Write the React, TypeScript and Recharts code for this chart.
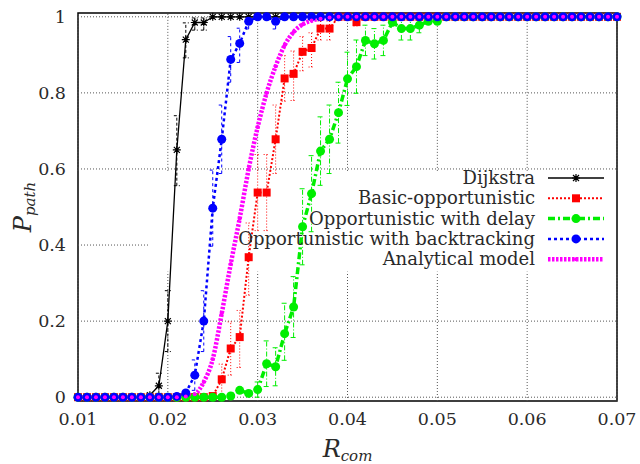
import {
  LineChart, Line, XAxis, YAxis, ErrorBar, ReferenceArea, ReferenceLine, Legend,
} from "recharts";

const R_COM = [
  0.01, 0.011, 0.012, 0.013, 0.014, 0.015, 0.016, 0.017, 0.018, 0.019,
  0.02, 0.021, 0.022, 0.023, 0.024, 0.025, 0.026, 0.027, 0.028, 0.029,
  0.03, 0.031, 0.032, 0.033, 0.034, 0.035, 0.036, 0.037, 0.038, 0.039,
  0.04, 0.041, 0.042, 0.043, 0.044, 0.045, 0.046, 0.047, 0.048, 0.049,
  0.05, 0.051, 0.052, 0.053, 0.054, 0.055, 0.056, 0.057, 0.058, 0.059,
  0.06, 0.061, 0.062, 0.063, 0.064, 0.065, 0.066, 0.067, 0.068, 0.069,
  0.07,
];

const DIJKSTRA = [
  0, 0, 0, 0, 0, 0, 0, 0, 0.005, 0.03,
  0.2, 0.65, 0.94, 0.985, 0.985, 1, 1, 1, 1, 1,
  1, 1, 1, 1, 1, 1, 1, 1, 1, 1,
  1, 1, 1, 1, 1, 1, 1, 1, 1, 1,
  1, 1, 1, 1, 1, 1, 1, 1, 1, 1,
  1, 1, 1, 1, 1, 1, 1, 1, 1, 1,
  1,
];

const BASIC = [
  0, 0, 0, 0, 0, 0, 0, 0, 0, 0,
  0, 0, 0, 0, 0, 0.003, 0.047, 0.128, 0.158, 0.368,
  0.538, 0.538, 0.678, 0.838, 0.85, 0.908, 0.918, 0.969, 0.969, 1,
  1, 0.986, 1, 1, 1, 1, 1, 1, 1, 1,
  1, 1, 1, 1, 1, 1, 1, 1, 1, 1,
  1, 1, 1, 1, 1, 1, 1, 1, 1, 1,
  1,
];

const DELAY = [
  0, 0, 0, 0, 0, 0, 0, 0, 0, 0,
  0, 0, 0, 0, 0, 0, 0, 0.003, 0.018, 0.01,
  0.02, 0.088, 0.08, 0.167, 0.237, 0.448, 0.535, 0.647, 0.678, 0.748,
  0.837, 0.869, 0.938, 0.929, 0.938, 0.986, 0.969, 0.969, 0.978, 0.988,
  0.988, 1, 1, 1, 1, 1, 1, 1, 1, 1,
  1, 1, 1, 1, 1, 1, 1, 1, 1, 1,
  1,
];

const BACKTRACK = [
  0, 0, 0, 0, 0, 0, 0, 0, 0, 0,
  0, 0.002, 0.011, 0.058, 0.2, 0.497, 0.678, 0.888, 0.93, 0.988,
  1, 1, 0.988, 1, 1, 1, 1, 1, 1, 1,
  1, 1, 1, 1, 1, 1, 1, 1, 1, 1,
  1, 1, 1, 1, 1, 1, 1, 1, 1, 1,
  1, 1, 1, 1, 1, 1, 1, 1, 1, 1,
  1,
];

const ANALYTICAL = [
  0, 0, 0, 0, 0, 0, 0, 0, 0, 0,
  0, 0, 0.002, 0.008, 0.04, 0.1, 0.22, 0.35, 0.47, 0.6,
  0.71, 0.8, 0.87, 0.925, 0.96, 0.98, 0.99, 0.995, 0.998, 1,
  1, 1, 1, 1, 1, 1, 1, 1, 1, 1,
  1, 1, 1, 1, 1, 1, 1, 1, 1, 1,
  1, 1, 1, 1, 1, 1, 1, 1, 1, 1,
  1,
];

// error bars: [R_com, minus, plus]
const DIJKSTRA_ERR = [
  [0.019, 0.02, 0.033], [0.02, 0.08, 0.08], [0.021, 0.094, 0.09],
  [0.022, 0.048, 0.044], [0.023, 0.02, 0.012], [0.024, 0.02, 0.012],
];
const BASIC_ERR = [
  [0.026, 0.04, 0.04], [0.027, 0.07, 0.07], [0.028, 0.08, 0.07], [0.029, 0.1, 0.09],
  [0.03, 0.1, 0.1], [0.031, 0.1, 0.1], [0.032, 0.09, 0.09], [0.033, 0.06, 0.06],
  [0.034, 0.07, 0.06], [0.035, 0.05, 0.04], [0.036, 0.05, 0.04], [0.037, 0.03, 0.02],
  [0.038, 0.03, 0.02], [0.041, 0.01, 0.01],
];
const DELAY_ERR = [
  [0.03, 0.02, 0.02], [0.031, 0.06, 0.06], [0.032, 0.05, 0.05], [0.033, 0.07, 0.08],
  [0.034, 0.08, 0.08], [0.035, 0.1, 0.1], [0.036, 0.1, 0.1], [0.037, 0.09, 0.09],
  [0.038, 0.09, 0.09], [0.039, 0.08, 0.08], [0.04, 0.07, 0.07], [0.041, 0.07, 0.07],
  [0.042, 0.04, 0.04], [0.043, 0.04, 0.04], [0.044, 0.04, 0.04], [0.045, 0.01, 0.01],
  [0.046, 0.03, 0.03], [0.047, 0.03, 0.03], [0.048, 0.02, 0.02],
];
const BACKTRACK_ERR = [
  [0.023, 0.04, 0.04], [0.024, 0.08, 0.08], [0.025, 0.1, 0.1], [0.026, 0.09, 0.09],
  [0.027, 0.06, 0.06], [0.028, 0.05, 0.04], [0.029, 0.02, 0.01], [0.032, 0.02, 0.01],
];

const X_TICKS = [0.01, 0.02, 0.03, 0.04, 0.05, 0.06, 0.07];
const Y_TICKS = [0, 0.2, 0.4, 0.6, 0.8, 1];

const SERIES_NAMES = [
  "Dijkstra",
  "Basic-opportunistic",
  "Opportunistic with delay",
  "Opportunistic with backtracking",
  "Analytical model",
];

const errFor = (list: number[][], r: number) => {
  const e = list.find((d) => Math.abs(d[0] - r) < 1e-9);
  return e ? [e[1], e[2]] : undefined;
};

const data = R_COM.map((r, i) => ({
  r,
  dij: DIJKSTRA[i],
  dijErr: errFor(DIJKSTRA_ERR, r),
  basic: BASIC[i],
  basicErr: errFor(BASIC_ERR, r),
  delay: DELAY[i],
  delayErr: errFor(DELAY_ERR, r),
  back: BACKTRACK[i],
  backErr: errFor(BACKTRACK_ERR, r),
  ana: ANALYTICAL[i],
}));

const FONT = "DejaVu Serif";
const TXT = "#2a2a2a";

// legend key box (grid is hidden behind it, like gnuplot's opaque key)
const KEY_X = [0.018, 0.0695];
const KEY_Y = [0.33, 0.595];

const STYLE = [
  { color: "#000000", dash: undefined, width: 1.3, marker: "star" },
  { color: "#ff0000", dash: "2 2", width: 2, marker: "square" },
  { color: "#00ee00", dash: "7 3 2 3", width: 3.5, marker: "circle" },
  { color: "#0000ff", dash: "3 3", width: 2.5, marker: "circle" },
  { color: "#ff00ff", dash: "2.5 1.5", width: 4.5, marker: "dot" },
];

const drawMarker = (kind: string, color: string, cx: number, cy: number, key?: any) => {
  if (cx == null || cy == null || isNaN(cx) || isNaN(cy)) return <g key={key} />;
  if (kind === "star")
    return (
      <path key={key} stroke={color} strokeWidth={1.2} fill="none"
        d={`M${cx - 4},${cy}H${cx + 4}M${cx},${cy - 4}V${cy + 4}M${cx - 3},${cy - 3}L${cx + 3},${cy + 3}M${cx - 3},${cy + 3}L${cx + 3},${cy - 3}`} />
    );
  if (kind === "square")
    return <rect key={key} x={cx - 4} y={cy - 4} width={8} height={8} fill={color} />;
  if (kind === "circle") return <circle key={key} cx={cx} cy={cy} r={4.5} fill={color} />;
  return <circle key={key} cx={cx} cy={cy} r={2} fill={color} />;
};

const dotFor = (idx: number) => (p: any) =>
  drawMarker(STYLE[idx].marker, STYLE[idx].color, p.cx, p.cy, p.key ?? `${idx}-${p.index}`);

const LegendBox = () => (
  <svg width={640} height={464} style={{ position: "absolute", left: 0, top: 0 }}>
    {SERIES_NAMES.map((name, k) => {
      const cy = 178 + k * 20.3;
      const s = STYLE[k];
      return (
        <g key={name}>
          <text x={535} y={cy + 6} textAnchor="end" fontSize={18} fill={TXT}
            style={{ fontFamily: FONT }}>
            {name}
          </text>
          <line x1={548} x2={604} y1={cy} y2={cy} stroke={s.color} strokeWidth={s.width}
            strokeDasharray={s.dash} />
          {drawMarker(s.marker, s.color, 576, cy)}
        </g>
      );
    })}
  </svg>
);

const YLabel = ({ viewBox }: any) => {
  const x = 31;
  const y = viewBox.y + viewBox.height / 2;
  return (
    <text transform={`rotate(-90, ${x}, ${y})`} x={x} y={y} textAnchor="middle"
      fill={TXT} style={{ fontFamily: FONT }}>
      <tspan fontStyle="italic" fontSize={24}>P</tspan>
      <tspan fontStyle="italic" fontSize={15} dy={4}>path</tspan>
    </text>
  );
};

const XLabel = ({ viewBox }: any) => {
  const x = viewBox.x + viewBox.width / 2;
  const y = viewBox.y + 56;
  return (
    <text x={x} y={y} textAnchor="middle" fill={TXT} style={{ fontFamily: FONT }}>
      <tspan fontStyle="italic" fontSize={24}>R</tspan>
      <tspan fontStyle="italic" fontSize={15} dy={4}>com</tspan>
    </text>
  );
};

const tick = { fontSize: 17.5, fill: TXT, fontFamily: FONT };
const GRID = { stroke: "#555", strokeDasharray: "1 2", strokeWidth: 1 };

export default function App() {
  return (
    <div style={{ position: "absolute", left: 0, top: 0, width: 640, height: 464, background: "#fff" }}>
      <LineChart width={640} height={464} data={data}
        margin={{ top: 13, right: 23, left: 18, bottom: 23 }}>
        {/* grid, split around the key box */}
        {Y_TICKS.map((v) =>
          v > KEY_Y[0] && v < KEY_Y[1] ? (
            <ReferenceLine key={`h${v}`} segment={[{ x: 0.01, y: v }, { x: KEY_X[0], y: v }]} {...GRID} />
          ) : (
            <ReferenceLine key={`h${v}`} y={v} {...GRID} />
          )
        )}
        {X_TICKS.map((v) => [
          <ReferenceLine key={`va${v}`} segment={[{ x: v, y: -0.01 }, { x: v, y: KEY_Y[0] }]} {...GRID} />,
          <ReferenceLine key={`vb${v}`} segment={[{ x: v, y: KEY_Y[1] }, { x: v, y: 1.01 }]} {...GRID} />,
        ])}
        <ReferenceArea x1={0.01} x2={0.07} y1={-0.01} y2={1.01} fill="none" stroke="#000"
          strokeWidth={1.5} ifOverflow="visible" />
        <XAxis dataKey="r" type="number" domain={[0.01, 0.07]} ticks={X_TICKS} height={40}
          tickFormatter={(v: number) => v.toFixed(2)} tick={tick} tickLine={false}
          tickSize={0} tickMargin={12} axisLine={false} interval={0}
          label={<XLabel />} />
        <YAxis type="number" domain={[-0.01, 1.01]} ticks={Y_TICKS} width={60}
          tickFormatter={(v: number) => String(v)} tick={tick} tickLine={false}
          tickSize={0} tickMargin={12} axisLine={false} interval={0}
          label={<YLabel />} />
        <Line dataKey="dij" stroke={STYLE[0].color} strokeWidth={STYLE[0].width}
          dot={dotFor(0)} isAnimationActive={false}>
          <ErrorBar dataKey="dijErr" width={3} stroke="#000" strokeWidth={1}
            strokeDasharray="3 2" direction="y" />
        </Line>
        <Line dataKey="basic" stroke={STYLE[1].color} strokeWidth={STYLE[1].width}
          strokeDasharray={STYLE[1].dash} dot={dotFor(1)} isAnimationActive={false}>
          <ErrorBar dataKey="basicErr" width={3} stroke="#ff0000" strokeWidth={1}
            strokeDasharray="1 2" direction="y" />
        </Line>
        <Line dataKey="delay" stroke={STYLE[2].color} strokeWidth={STYLE[2].width}
          strokeDasharray={STYLE[2].dash} dot={dotFor(2)} isAnimationActive={false}>
          <ErrorBar dataKey="delayErr" width={3} stroke="#00ee00" strokeWidth={1}
            strokeDasharray="5 2 1 2" direction="y" />
        </Line>
        <Line dataKey="back" stroke={STYLE[3].color} strokeWidth={STYLE[3].width}
          strokeDasharray={STYLE[3].dash} dot={dotFor(3)} isAnimationActive={false}>
          <ErrorBar dataKey="backErr" width={3} stroke="#0000ff" strokeWidth={1}
            strokeDasharray="3 3" direction="y" />
        </Line>
        <Line dataKey="ana" type="monotone" stroke={STYLE[4].color} strokeWidth={STYLE[4].width}
          strokeDasharray={STYLE[4].dash} dot={dotFor(4)} isAnimationActive={false} />
        <Legend layout="horizontal" verticalAlign="middle" align="center"
          content={() => <LegendBox />}
          wrapperStyle={{ left: 0, top: 0, width: 640, height: 464, pointerEvents: "none" }} />
      </LineChart>
    </div>
  );
}
